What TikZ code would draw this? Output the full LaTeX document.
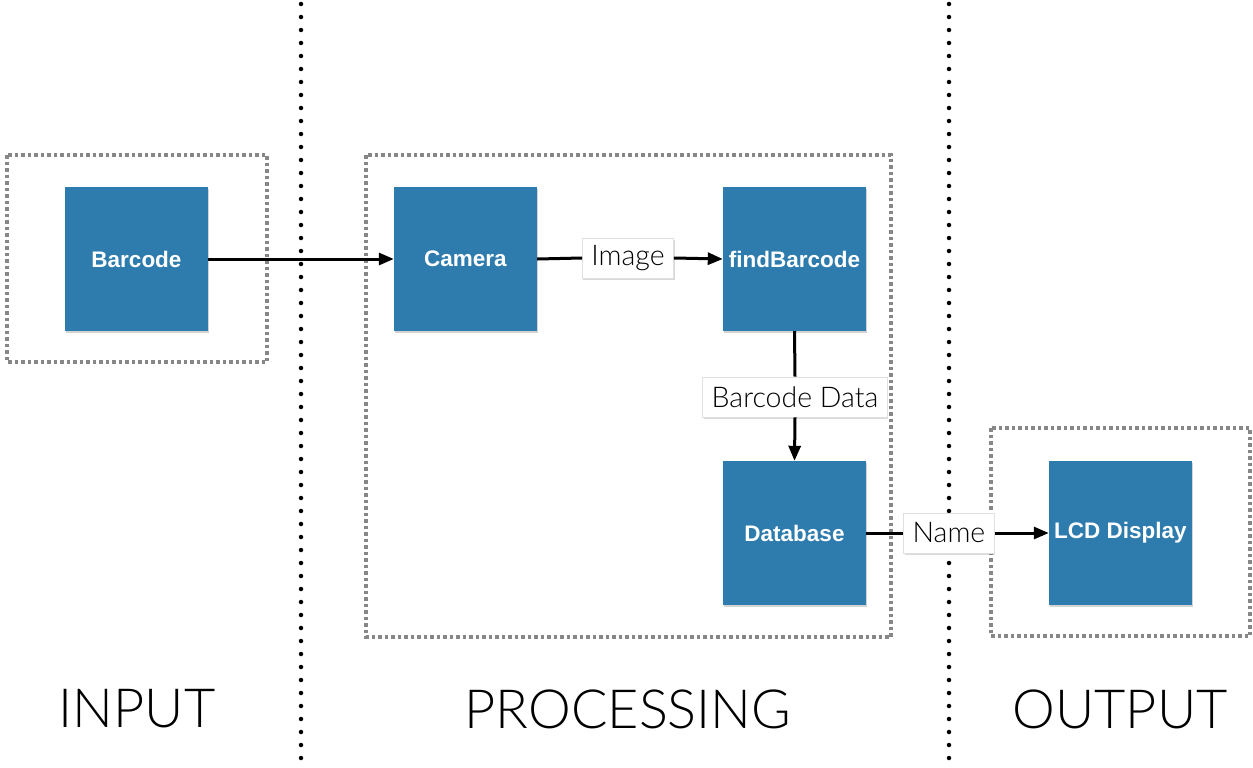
\documentclass[tikz,border=0pt]{standalone}
\usepackage{fontspec}
\setmainfont{Liberation Sans}
\newfontfamily\lightfont{Lato}[UprightFont=* Light]
\usetikzlibrary{arrows.meta,shadows}
\definecolor{boxblue}{RGB}{46,123,174}
\definecolor{dashgray}{RGB}{135,135,135}
\begin{document}
\begin{tikzpicture}[x=1pt,y=-1pt,
  block/.style={fill=boxblue,minimum width=143pt,minimum height=144pt,inner sep=0pt,
    text=white,font=\fontsize{22.5}{25}\selectfont\bfseries,
    drop shadow={shadow xshift=1pt,shadow yshift=-1.5pt,opacity=0.35}},
  lbl/.style={fill=white,draw=black!12,line width=0.6pt,minimum height=40pt,inner xsep=9pt,inner ysep=0pt,
    font=\lightfont\fontsize{28.5}{30}\selectfont,
    drop shadow={shadow xshift=1pt,shadow yshift=-2pt,opacity=0.3}},
  group/.style={draw=dashgray,line width=3.2pt,dash pattern=on 3.5pt off 3pt},
  sep/.style={line width=4.5pt,line cap=round,dash pattern=on 0pt off 13pt},
  conn/.style={line width=3pt,-{Triangle[length=15pt,width=12pt]}},
  plain/.style={line width=3pt},
  title/.style={font=\lightfont\fontsize{54}{58}\selectfont}
]
\useasboundingbox (0,0) rectangle (1253,768);
% separators
\draw[sep] (301,4) -- (301,768);
\draw[sep] (949,4) -- (949,768);
% groups
\draw[group] (7,155) rectangle (267,362);
\draw[group] (366,155) rectangle (891,637);
\draw[group] (991,428) rectangle (1250,636);
% blocks
\node[block] (barcode) at (136.5,259) {Barcode};
\node[block] (camera) at (465.5,259) {Camera};
\node[block] (find) at (794.5,259) {findBarcode};
\node[block] (db) at (794.5,533) {Database};
\node[block] (lcd) at (1120.5,533) {LCD Display};
% labels
\node[lbl] (img) at (628,258) {Image};
\node[lbl] (bdata) at (795,397) {Barcode Data};
\node[lbl] (name) at (949,533) {Name};
% connectors
\draw[conn] (barcode.east) -- (camera.west);
\draw[plain] (camera.east) -- (img.west);
\draw[conn] (img.east) -- (find.west);
\draw[plain] (find.south) -- (bdata.north);
\draw[conn] (bdata.south) -- (db.north);
\draw[plain] (db.east) -- (name.west);
\draw[conn] (name.east) -- (lcd.west);
% titles
\node[title] (tin) at (137,709) {INPUT};
\node[title] (tproc) at (628,709) {PROCESSING};
\node[title] (tout) at (1120,709) {OUTPUT};
\end{tikzpicture}
\end{document}
